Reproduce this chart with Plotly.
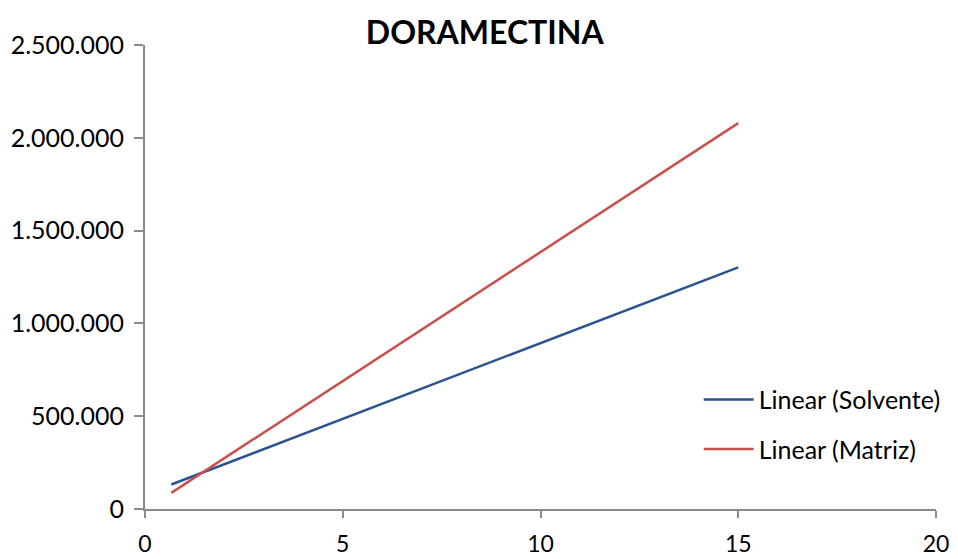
import plotly.graph_objects as go

x_vals = [0.665, 15]
solvente = [132000, 1302000]
matriz = [87000, 2079000]
names = ["Linear (Solvente)", "Linear (Matriz)"]
colors = ["#2A548F", "#C8504D"]

fig = go.Figure()
for i, (ys, nm, c) in enumerate(zip([solvente, matriz], names, colors)):
    fig.add_trace(go.Scatter(x=x_vals, y=ys, mode="lines", name=nm,
                             legendgroup=f"g{i}",
                             line=dict(color=c, width=2.5)))

font_family = "Lato, 'Open Sans', sans-serif"
fig.update_layout(
    width=958, height=559,
    margin=dict(l=145, r=18, t=45, b=50),
    paper_bgcolor="white", plot_bgcolor="white",
    separators=",.",
    font=dict(family=font_family, size=25, color="black"),
    title=dict(text="<b>DORAMECTINA</b>", x=0.506, xref="container", xanchor="center",
               y=1 - 33/559, yref="container", yanchor="middle",
               font=dict(family=font_family, size=32, color="black")),
    showlegend=True,
    legend=dict(x=0.70, y=0.285, xanchor="left", yanchor="top",
                font=dict(size=25, family=font_family),
                itemwidth=50, tracegroupgap=14, traceorder="grouped",
                bgcolor="rgba(0,0,0,0)"),
    xaxis=dict(range=[0, 20], tickvals=[0, 5, 10, 15, 20], showgrid=False, zeroline=False,
               showline=True, linecolor="#8A8A8A", linewidth=2, automargin=False,
               ticks="outside", ticklen=7, tickwidth=2, tickcolor="#8A8A8A",
               tickfont=dict(size=23), ticklabelstandoff=6),
    yaxis=dict(range=[0, 2500000], tickvals=[0, 500000, 1000000, 1500000, 2000000, 2500000],
               tickformat=",d", showgrid=False, zeroline=False, automargin=False,
               showline=True, linecolor="#8A8A8A", linewidth=2,
               ticks="outside", ticklen=9, tickwidth=2, tickcolor="#8A8A8A",
               ticklabelstandoff=5),
)

fig.write_html("out.html")
